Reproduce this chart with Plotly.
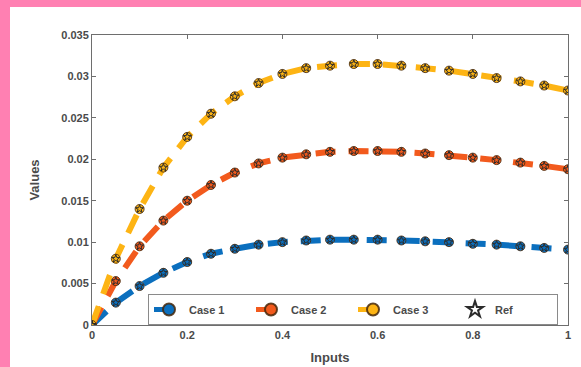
import plotly.graph_objects as go

# Sample points along the input axis
inputs = [0.0, 0.05, 0.1, 0.15, 0.2, 0.25, 0.3, 0.35, 0.4, 0.45, 0.5,
          0.55, 0.6, 0.65, 0.7, 0.75, 0.8, 0.85, 0.9, 0.95, 1.0]

case1 = [0.0, 0.0027, 0.0047, 0.0063, 0.0076, 0.0086, 0.0092, 0.0097, 0.0100, 0.0102, 0.0103,
         0.0103, 0.0103, 0.0102, 0.0101, 0.0100, 0.0098, 0.0097, 0.0095, 0.0093, 0.0091]
case2 = [0.0, 0.0053, 0.0095, 0.0126, 0.0150, 0.0169, 0.0184, 0.0195, 0.0202, 0.0206, 0.0209,
         0.0210, 0.0210, 0.0209, 0.0207, 0.0205, 0.0202, 0.0199, 0.0196, 0.0192, 0.0188]
case3 = [0.0, 0.0080, 0.0140, 0.0190, 0.0227, 0.0255, 0.0276, 0.0292, 0.0303, 0.0310, 0.0313,
         0.0315, 0.0315, 0.0313, 0.0310, 0.0307, 0.0303, 0.0298, 0.0294, 0.0289, 0.0283]

# Reference solution evaluated at the same inputs
ref1 = list(case1)
ref2 = list(case2)
ref3 = list(case3)

series_names = ["Case 1", "Case 2", "Case 3"]
series_colors = ["#0B6FBE", "#F25A1D", "#FDB414"]
x_ticks = [0, 0.2, 0.4, 0.6, 0.8, 1]
y_ticks = [0, 0.005, 0.01, 0.015, 0.02, 0.025, 0.03, 0.035]
y_tick_text = ["0", "0.005", "0.01", "0.015", "0.02", "0.025", "0.03", "0.035"]

W, H = 581, 367
L, R, T, B = 92, 13, 35, 42
plot_w, plot_h = W - L - R, H - T - B

font_family = "Liberation Sans, Arial, sans-serif"
text_color = "#4a4a4a"
axis_color = "#6e6e6e"

fig = go.Figure()

for name, ys, color in zip(series_names, [case1, case2, case3], series_colors):
    fig.add_trace(go.Scatter(
        x=inputs, y=ys, name=name, mode="lines+markers",
        line=dict(color=color, width=6, dash="20px,13px"),
        marker=dict(symbol="circle", size=9, color=color,
                    line=dict(color="rgba(70,40,10,0.85)", width=1)),
    ))

for i, ys in enumerate([ref1, ref2, ref3]):
    fig.add_trace(go.Scatter(
        x=inputs, y=ys, name="Ref", mode="markers",
        showlegend=(i == 0),
        marker=dict(symbol="star-open", size=6, color="#2b2b2b",
                    line=dict(color="#2b2b2b", width=1)),
    ))

tick_font = dict(family=font_family, size=11, color=text_color, weight="bold")
title_font = dict(family=font_family, size=13, color=text_color, weight="bold")

axis_common = dict(
    showline=True, linecolor=axis_color, linewidth=1, mirror="ticks",
    ticks="inside", ticklen=4, tickcolor=axis_color, showgrid=False,
    zeroline=False, tickfont=tick_font,
)

fig.update_xaxes(range=[0, 1], tickvals=x_ticks, ticktext=[str(v) for v in x_ticks],
                 title=dict(text="Inputs", font=title_font, standoff=12),
                 **axis_common)
fig.update_yaxes(range=[0, 0.035], tickvals=y_ticks, ticktext=y_tick_text,
                 title=dict(text="Values", font=title_font, standoff=18),
                 **axis_common)

# Pink frame along the top and left edges of the page
def px_x(p):
    return (p - L) / plot_w

def px_y(p):
    return (H - B - p) / plot_h

pink = "#FF80B2"
fig.add_shape(type="rect", xref="paper", yref="paper",
              x0=px_x(0), x1=px_x(W), y0=px_y(7), y1=px_y(0),
              fillcolor=pink, line=dict(width=0), layer="above")
fig.add_shape(type="rect", xref="paper", yref="paper",
              x0=px_x(0), x1=px_x(10), y0=px_y(H), y1=px_y(0),
              fillcolor=pink, line=dict(width=0), layer="above")

fig.update_layout(
    width=W, height=H,
    margin=dict(l=L, r=R, t=T, b=B, autoexpand=False),
    paper_bgcolor="white", plot_bgcolor="white",
    showlegend=True,
    legend=dict(
        orientation="h", traceorder="normal",
        x=px_x(148), y=px_y(294), xanchor="left", yanchor="top",
        bgcolor="white", bordercolor="#8a8a8a", borderwidth=1,
        entrywidth=57, entrywidthmode="pixels",
        font=tick_font,
        itemsizing="constant",
    ),
)

fig.write_html("out.html")
